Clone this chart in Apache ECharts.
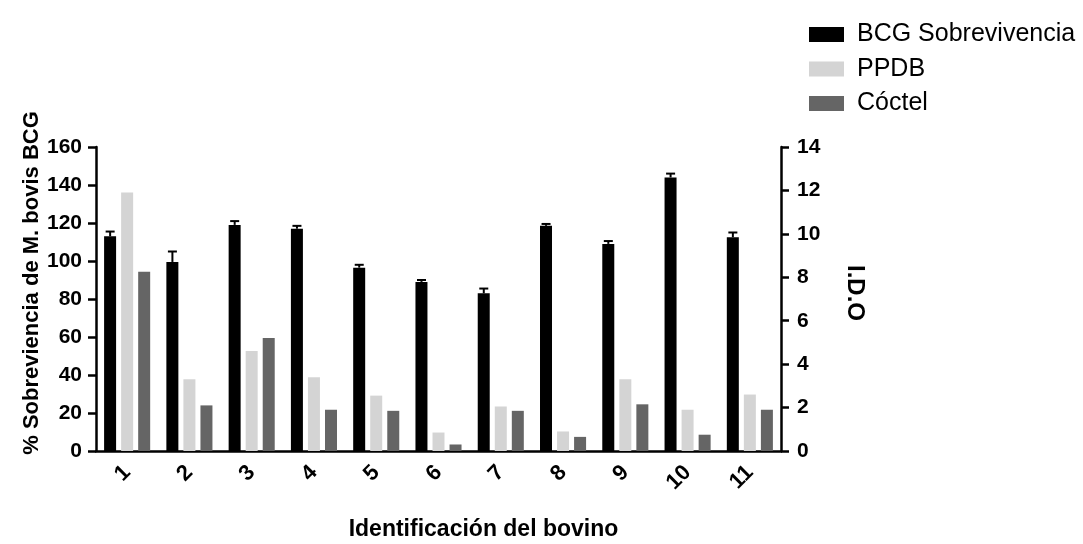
<!DOCTYPE html>
<html lang="es">
<head>
<meta charset="utf-8">
<title>Sobrevivencia de M. bovis BCG e I.D.O</title>
<script src="https://cdn.jsdelivr.net/npm/echarts@6/dist/echarts.min.js"></script>
</head>
<body style="margin:0;background:#fff">
<div id="container" style="width:1083px;height:544px"></div>
<script type="text/javascript">
// datos
var bovinos = ['1', '2', '3', '4', '5', '6', '7', '8', '9', '10', '11'];
var bcgSobrevivencia = [113, 99.5, 119, 117, 96.5, 89, 83, 118.5, 109, 144, 112.5];
var bcgError = [2.5, 5.5, 2, 1.5, 1.5, 1, 2.5, 1, 1.5, 2, 2.5];
var ppdb = [11.9, 3.3, 4.6, 3.4, 2.55, 0.85, 2.05, 0.9, 3.3, 1.9, 2.6];
var coctel = [8.25, 2.1, 5.2, 1.9, 1.85, 0.3, 1.85, 0.65, 2.15, 0.75, 1.9];

var fuente = 'Liberation Sans, Arial, sans-serif';
var myChart = echarts.init(document.getElementById('container'));

var errorData = bovinos.map(function (b, i) {
    return [i, bcgSobrevivencia[i], bcgSobrevivencia[i] + bcgError[i]];
});

var option = {
    backgroundColor: '#fff',
    animation: false,
    textStyle: { fontFamily: fuente, color: '#000' },
    legend: {
        orient: 'vertical',
        left: 804,
        top: 17,
        icon: 'rect',
        itemWidth: 35,
        itemHeight: 15,
        itemGap: 9.5,
        textStyle: { fontSize: 25, lineHeight: 25, color: '#000', fontFamily: fuente, padding: [0, 0, 0, 8] },
        data: ['BCG Sobrevivencia', 'PPDB', 'Cóctel']
    },
    grid: { left: 96, right: 302, top: 147, bottom: 93, outerBoundsMode: 'none' },
    xAxis: {
        type: 'category',
        data: bovinos,
        name: 'Identificación del bovino',
        nameLocation: 'middle',
        nameGap: 67,
        nameMoveOverlap: false,
        nameTextStyle: { fontSize: 23, fontWeight: 'bold', color: '#000', padding: [0, 0, 0, 90] },
        axisLine: { lineStyle: { color: '#000', width: 2.5 } },
        axisTick: { alignWithLabel: true, length: 7, lineStyle: { color: '#000', width: 2.5 } },
        axisLabel: { rotate: 45, margin: 18, fontSize: 22, fontWeight: 'bold', color: '#000' }
    },
    yAxis: [{
        type: 'value',
        min: 0, max: 160, interval: 20,
        name: '% Sobreviencia de M. bovis BCG',
        nameLocation: 'middle',
        nameRotate: 90,
        nameGap: 53,
        nameMoveOverlap: false,
        nameTextStyle: { fontSize: 22, fontWeight: 'bold', color: '#000', padding: [0, 0, 0, 32] },
        axisLine: { show: true, lineStyle: { color: '#000', width: 2.5 } },
        axisTick: { show: true, length: 8, lineStyle: { color: '#000', width: 2.5 } },
        axisLabel: { margin: 14, fontSize: 21, fontWeight: 'bold', color: '#000' },
        splitLine: { show: false }
    }, {
        type: 'value',
        position: 'right',
        min: 0, max: 14, interval: 2,
        name: 'I.D.O',
        nameLocation: 'middle',
        nameRotate: -90,
        nameGap: 62,
        nameMoveOverlap: false,
        nameTextStyle: { fontSize: 24, fontWeight: 'bold', color: '#000', padding: [0, 12, 0, 0] },
        axisLine: { show: true, lineStyle: { color: '#000', width: 2.5 } },
        axisTick: { show: true, length: 8, lineStyle: { color: '#000', width: 2.5 } },
        axisLabel: { margin: 16, fontSize: 21, fontWeight: 'bold', color: '#000' },
        splitLine: { show: false }
    }],
    series: [
        {
            name: 'BCG Sobrevivencia',
            type: 'bar',
            yAxisIndex: 0,
            barWidth: 12,
            barGap: '42%',
            itemStyle: { color: '#000' },
            data: bcgSobrevivencia
        },
        {
            name: 'PPDB',
            type: 'bar',
            yAxisIndex: 1,
            barWidth: 12,
            barGap: '42%',
            itemStyle: { color: '#d4d4d4' },
            data: ppdb
        },
        {
            name: 'Cóctel',
            type: 'bar',
            yAxisIndex: 1,
            barWidth: 12,
            barGap: '42%',
            itemStyle: { color: '#656565' },
            data: coctel
        },
        {
            // barras de error (solo la mitad superior es visible)
            type: 'custom',
            yAxisIndex: 0,
            silent: true,
            z: 5,
            renderItem: function (params, api) {
                var base = api.coord([api.value(0), api.value(1)]);
                var top = api.coord([api.value(0), api.value(2)]);
                var x = base[0] - 17;
                return {
                    type: 'group',
                    children: [
                        { type: 'line', shape: { x1: x, y1: base[1], x2: x, y2: top[1] }, style: { stroke: '#000', lineWidth: 2 } },
                        { type: 'line', shape: { x1: x - 4.5, y1: top[1], x2: x + 4.5, y2: top[1] }, style: { stroke: '#000', lineWidth: 2 } }
                    ]
                };
            },
            data: errorData
        }
    ]
};

myChart.setOption(option);
</script>
</body>
</html>
